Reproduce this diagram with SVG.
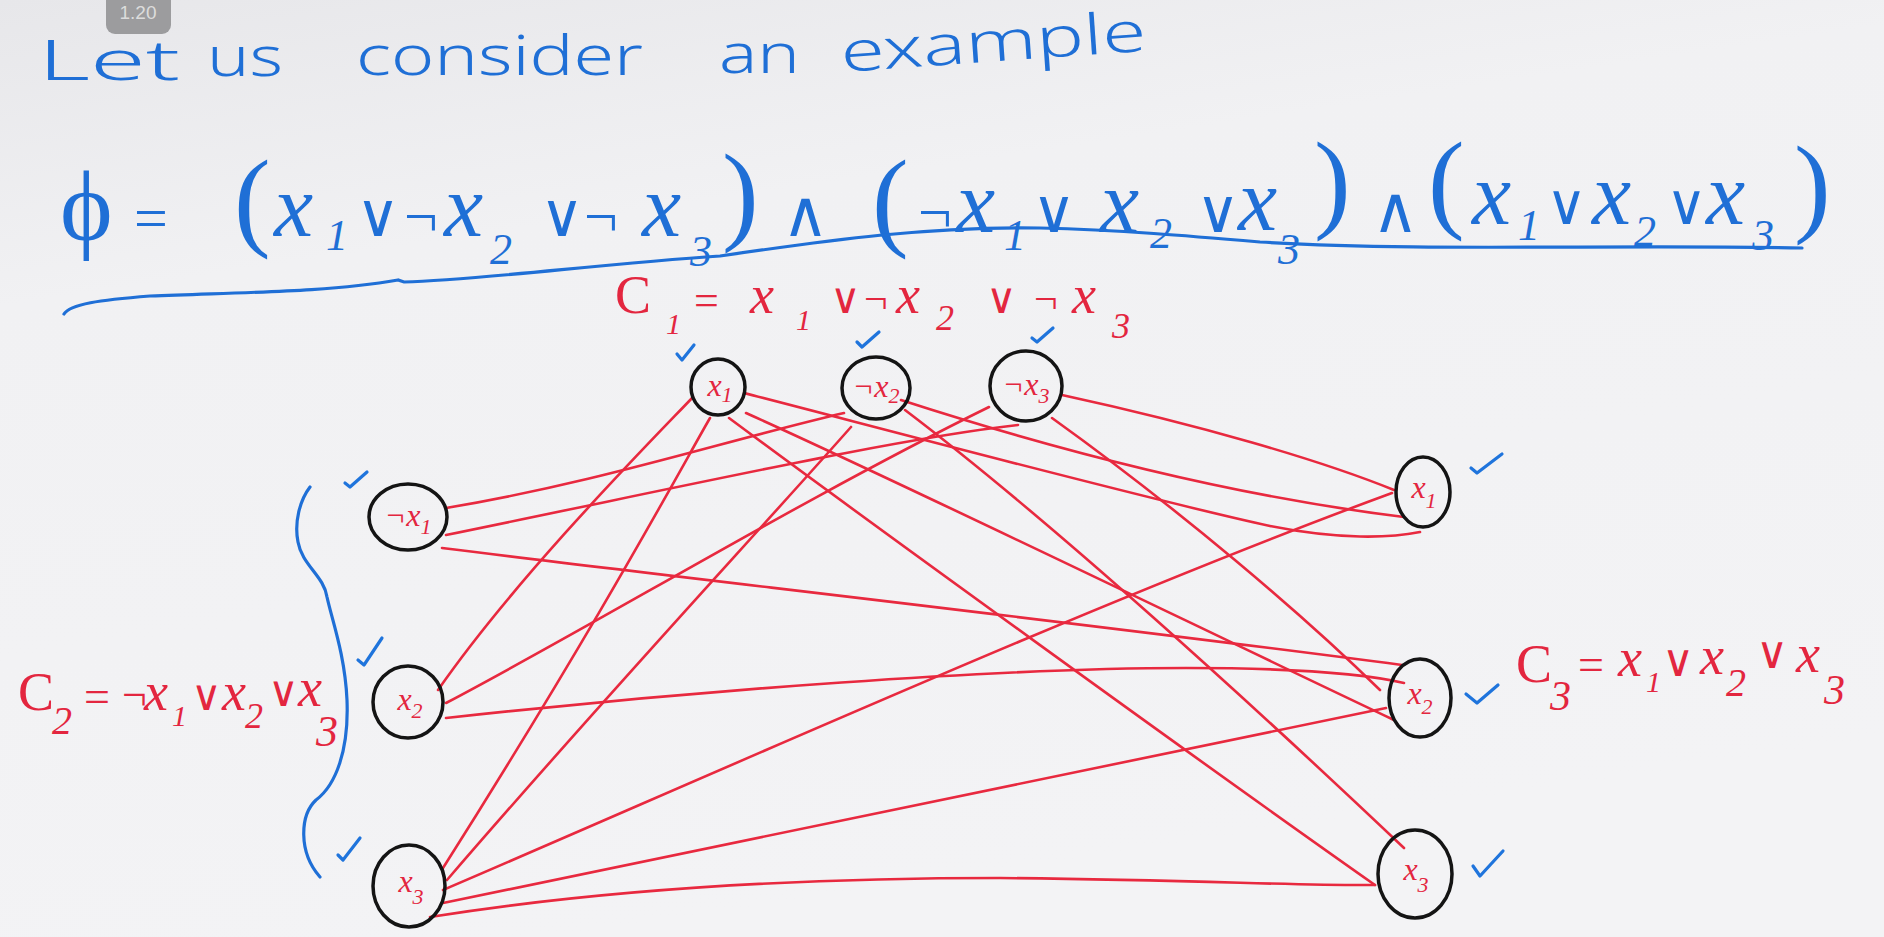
<svg xmlns="http://www.w3.org/2000/svg" width="1884" height="937" viewBox="0 0 1884 937">
<defs>
<linearGradient id="bg" x1="0" y1="0" x2="0.3" y2="1">
<stop offset="0" stop-color="#e7e7ea"/>
<stop offset="0.3" stop-color="#f1f1f3"/>
<stop offset="1" stop-color="#f3f3f5"/>
</linearGradient>
<style>
.hand{font-family:"Noto Sans","DejaVu Sans",sans-serif;fill:#1f6fd6}
.math{font-family:"Liberation Serif","DejaVu Serif",serif;font-style:italic}
.blue{fill:#1f6fd6}
.red{fill:#e3263f}
.par{font-size:110px;font-style:normal}
.op{font-style:normal}
.node ellipse{fill:none;stroke:#141414;stroke-width:3.5}
.node text{font-family:"Liberation Serif","DejaVu Serif",serif;font-style:italic;font-size:32px;fill:#e3263f;text-anchor:middle}
.node .s{font-size:22px}
.edges path{fill:none;stroke:#e8293f;stroke-width:2.6;stroke-linecap:round}
.check path{fill:none;stroke:#1f74dc;stroke-width:3.2;stroke-linecap:round;stroke-linejoin:round}
.bline{fill:none;stroke:#1f6fd6;stroke-width:3.2;stroke-linecap:round}
</style>
</defs>
<rect width="1884" height="937" fill="url(#bg)"/>

<g id="badge">
<rect x="106" y="-12" width="65" height="46" rx="9" fill="#8e8e90" opacity="0.85"/>
<text x="138" y="19" font-family="Liberation Sans, sans-serif" font-size="19" fill="#dcdcdc" text-anchor="middle">1.20</text>
</g>

<g id="title" class="hand" font-size="56" font-weight="300">
<text x="38" y="80" textLength="142" lengthAdjust="spacingAndGlyphs">Let</text>
<text x="207" y="76" textLength="76" lengthAdjust="spacingAndGlyphs">us</text>
<text x="356" y="75" textLength="287" lengthAdjust="spacingAndGlyphs">consider</text>
<text x="719" y="73" textLength="81" lengthAdjust="spacingAndGlyphs">an</text>
<text x="842" y="72" textLength="306" lengthAdjust="spacingAndGlyphs" transform="rotate(-4 842 72)">example</text>
</g>

<g id="formula" class="math blue" font-size="88">
<text>
<tspan x="60" y="240" font-size="100" class="op">ϕ</tspan>
<tspan x="134" y="238" font-size="60" class="op">=</tspan>
<tspan x="234" y="236" class="par">(</tspan>
<tspan x="274" y="236">x</tspan><tspan x="326" y="250" font-size="44">1</tspan>
<tspan x="356" y="236" font-size="60" class="op">∨</tspan>
<tspan x="404" y="236" font-size="60" class="op">¬</tspan>
<tspan x="444" y="236">x</tspan><tspan x="490" y="264" font-size="44">2</tspan>
<tspan x="540" y="236" font-size="60" class="op">∨</tspan>
<tspan x="584" y="236" font-size="60" class="op">¬</tspan>
<tspan x="642" y="236">x</tspan><tspan x="690" y="266" font-size="44">3</tspan>
<tspan x="722" y="230" class="par">)</tspan>
<tspan x="782" y="236" font-size="64" class="op">∧</tspan>
<tspan x="872" y="236" class="par">(</tspan>
<tspan x="918" y="232" font-size="60" class="op">¬</tspan>
<tspan x="956" y="232">x</tspan><tspan x="1004" y="250" font-size="44">1</tspan>
<tspan x="1032" y="232" font-size="60" class="op">∨</tspan>
<tspan x="1100" y="232">x</tspan><tspan x="1150" y="248" font-size="44">2</tspan>
<tspan x="1196" y="232" font-size="60" class="op">∨</tspan>
<tspan x="1238" y="230">x</tspan><tspan x="1278" y="264" font-size="44">3</tspan>
<tspan x="1314" y="218" class="par">)</tspan>
<tspan x="1372" y="232" font-size="64" class="op">∧</tspan>
<tspan x="1428" y="218" class="par">(</tspan>
<tspan x="1472" y="224">x</tspan><tspan x="1518" y="240" font-size="44">1</tspan>
<tspan x="1546" y="224" font-size="56" class="op">∨</tspan>
<tspan x="1592" y="224">x</tspan><tspan x="1634" y="246" font-size="44">2</tspan>
<tspan x="1666" y="224" font-size="56" class="op">∨</tspan>
<tspan x="1706" y="224">x</tspan><tspan x="1752" y="250" font-size="44">3</tspan>
<tspan x="1794" y="222" class="par">)</tspan>
</text>
</g>
<path id="underline" class="bline" d="M64,314 C70,304 100,300 150,296 C250,292 330,292 398,280 L404,282 C480,280 600,264 720,256 C830,240 930,226 1040,228 C1120,230 1190,236 1260,242 C1420,252 1620,244 1802,248"/>

<g id="c1-label" class="math red" font-size="54">
<text>
<tspan x="615" y="313" class="op">C</tspan><tspan x="666" y="334" font-size="30">1</tspan>
<tspan x="694" y="315" font-size="44" class="op">=</tspan>
<tspan x="750" y="313">x</tspan><tspan x="796" y="330" font-size="30">1</tspan>
<tspan x="830" y="313" font-size="42" class="op">∨</tspan>
<tspan x="864" y="313" font-size="42" class="op">¬</tspan>
<tspan x="896" y="313">x</tspan><tspan x="936" y="330" font-size="36">2</tspan>
<tspan x="986" y="313" font-size="42" class="op">∨</tspan>
<tspan x="1034" y="313" font-size="42" class="op">¬</tspan>
<tspan x="1072" y="313">x</tspan><tspan x="1112" y="338" font-size="36">3</tspan>
</text>
</g>

<g id="c2-label" class="math red" font-size="54">
<text>
<tspan x="18" y="710" class="op">C</tspan><tspan x="52" y="734" font-size="40">2</tspan>
<tspan x="84" y="712" font-size="46" class="op">=</tspan>
<tspan x="122" y="710" font-size="44" class="op">¬</tspan>
<tspan x="144" y="710">x</tspan><tspan x="172" y="726" font-size="30">1</tspan>
<tspan x="191" y="710" font-size="42" class="op">∨</tspan>
<tspan x="222" y="710">x</tspan><tspan x="245" y="728" font-size="36">2</tspan>
<tspan x="268" y="706" font-size="42" class="op">∨</tspan>
<tspan x="298" y="706">x</tspan><tspan x="316" y="746" font-size="44">3</tspan>
</text>
</g>

<g id="c3-label" class="math red" font-size="54">
<text>
<tspan x="1516" y="682" class="op">C</tspan><tspan x="1550" y="710" font-size="42">3</tspan>
<tspan x="1578" y="680" font-size="46" class="op">=</tspan>
<tspan x="1618" y="676">x</tspan><tspan x="1646" y="692" font-size="30">1</tspan>
<tspan x="1662" y="676" font-size="44" class="op">∨</tspan>
<tspan x="1700" y="674">x</tspan><tspan x="1726" y="696" font-size="40">2</tspan>
<tspan x="1756" y="668" font-size="44" class="op">∨</tspan>
<tspan x="1796" y="672">x</tspan><tspan x="1824" y="704" font-size="42">3</tspan>
</text>
</g>

<path id="brace" class="bline" d="M310,487 C300,500 294,522 298,542 C302,565 324,576 327,597 C332,620 345,655 347,700 C349,750 336,785 316,800 C300,815 298,852 320,877"/>

<g id="edges" class="edges">
<path d="M693,397 C660,432 520,572 438,690"/>
<path d="M710,418 C680,470 600,620 443,868"/>
<path d="M744,393 C880,428 1150,500 1270,526 C1340,540 1390,538 1420,532"/>
<path d="M746,413 C900,482 1200,628 1394,720"/>
<path d="M729,418 C850,508 1200,762 1375,885"/>
<path d="M844,413 C720,442 600,482 446,508"/>
<path d="M851,427 C760,530 600,702 447,880"/>
<path d="M901,400 C1000,432 1200,492 1404,517"/>
<path d="M905,410 C1050,520 1250,702 1404,848"/>
<path d="M446,535 C700,483 900,438 1018,425"/>
<path d="M989,407 C800,500 600,622 446,703"/>
<path d="M1062,395 C1200,425 1320,460 1394,490"/>
<path d="M1052,418 C1180,510 1300,612 1380,690"/>
<path d="M442,548 C700,580 1100,625 1402,665"/>
<path d="M446,718 C700,690 1000,668 1186,668 C1300,668 1370,675 1404,683"/>
<path d="M443,890 C700,780 1100,600 1392,493"/>
<path d="M443,903 C800,830 1100,770 1386,708"/>
<path d="M430,917 C600,890 800,878 1000,878 C1200,880 1300,886 1375,885"/>
</g>

<g id="n-c1-x1" class="node"><ellipse cx="718" cy="387" rx="27" ry="28"/><text x="720" y="396">x<tspan class="s" dy="6">1</tspan></text></g>
<g id="n-c1-nx2" class="node"><ellipse cx="876" cy="388" rx="34" ry="31"/><text x="876" y="397">¬x<tspan class="s" dy="6">2</tspan></text></g>
<g id="n-c1-nx3" class="node"><ellipse cx="1026" cy="386" rx="36" ry="35"/><text x="1026" y="395">¬x<tspan class="s" dy="8">3</tspan></text></g>
<g id="n-c2-nx1" class="node"><ellipse cx="408" cy="517" rx="39" ry="33"/><text x="408" y="526">¬x<tspan class="s" dy="8">1</tspan></text></g>
<g id="n-c2-x2" class="node"><ellipse cx="408" cy="702" rx="35" ry="36"/><text x="410" y="710">x<tspan class="s" dy="8">2</tspan></text></g>
<g id="n-c2-x3" class="node"><ellipse cx="409" cy="886" rx="36" ry="41"/><text x="411" y="892">x<tspan class="s" dy="12">3</tspan></text></g>
<g id="n-c3-x1" class="node"><ellipse cx="1423" cy="492" rx="27" ry="35"/><text x="1424" y="498">x<tspan class="s" dy="10">1</tspan></text></g>
<g id="n-c3-x2" class="node"><ellipse cx="1420" cy="698" rx="31" ry="39"/><text x="1420" y="704">x<tspan class="s" dy="10">2</tspan></text></g>
<g id="n-c3-x3" class="node"><ellipse cx="1415" cy="874" rx="37" ry="44"/><text x="1416" y="880">x<tspan class="s" dy="12">3</tspan></text></g>

<g id="checks" class="check">
<path d="M677,354 L682,360 L694,345"/>
<path d="M857,342 L862,347 L879,332"/>
<path d="M1032,338 L1037,342 L1053,328"/>
<path d="M345,483 L350,487 L367,472"/>
<path d="M358,660 L364,665 L382,638"/>
<path d="M338,855 L343,860 L360,838"/>
<path d="M1471,468 L1477,473 L1502,454"/>
<path d="M1466,694 L1477,703 L1498,685"/>
<path d="M1473,866 L1480,876 L1503,851"/>
</g>
</svg>
